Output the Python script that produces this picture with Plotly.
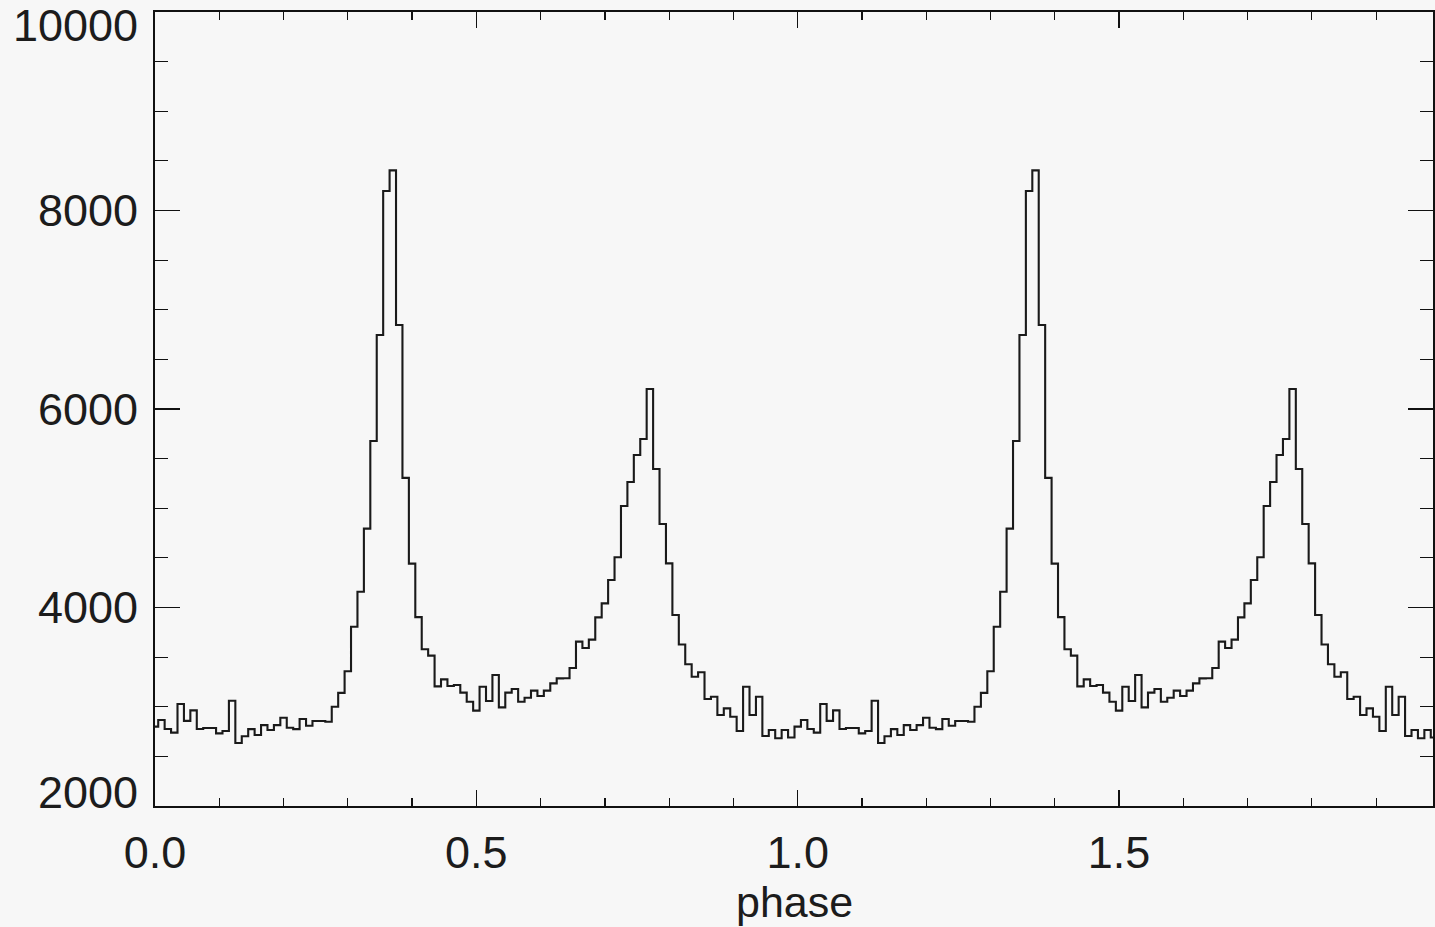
import plotly.graph_objects as go

# ---- data ----
bin_width = 0.01
n_periods = 2
# counts per phase bin for one rotation (bins centred on 0.00, 0.01, ... 0.99)
counts_one_period = [
    2800, 2866, 2776, 2739, 3027, 2858, 2963, 2776, 2786, 2786,
    2732, 2756, 3060, 2635, 2703, 2775, 2715, 2815, 2765, 2815,
    2889, 2789, 2775, 2876, 2809, 2856, 2856, 2849, 3000, 3140,
    3357, 3806, 4158, 4795, 5677, 6746, 8197, 8404, 6846, 5306,
    4442, 3903, 3579, 3515, 3205, 3276, 3209, 3219, 3142, 3051,
    2961, 3202, 3058, 3320, 2994, 3142, 3179, 3051, 3091, 3162,
    3108, 3162, 3236, 3286, 3287, 3390, 3656, 3592, 3676, 3901,
    4042, 4277, 4506, 5023, 5265, 5537, 5698, 6202, 5396, 4841,
    4445, 3925, 3627, 3428, 3303, 3347, 3078, 3101, 2917, 2984,
    2900, 2756, 3202, 2917, 3101, 2705, 2766, 2682, 2766, 2690,
]
# the light curve is plotted twice (phase 0-2)
counts = counts_one_period * n_periods
phase = [round(i * bin_width, 2) for i in range(len(counts))]

x_tick_vals = [0.0, 0.5, 1.0, 1.5]
x_tick_text = ["0.0", "0.5", "1.0", "1.5"]
y_tick_vals = [2000, 4000, 6000, 8000, 10000]
y_tick_text = ["2000", "4000", "6000", "8000", "10000"]
x_title = "phase"

# ---- figure ----
W, H = 1435, 927
L, R, T, B = 155, 0, 12, 121
bg = "#f7f7f7"
ink = "#1c1c1c"
font_family = "Liberation Sans, Arial, sans-serif"

fig = go.Figure()
fig.add_trace(go.Scatter(
    x=phase, y=counts, mode="lines",
    line=dict(shape="hvh", color="#1a1a1a", width=2.1),
    hoverinfo="skip", showlegend=False,
))

x_max = phase[-1] * (W - L) / (W - L + 1)

# y tick labels as annotations (extreme labels sit slightly inside the frame)
label_shift = {2000: 14, 10000: -13}
annotations = []
for v, t in zip(y_tick_vals, y_tick_text):
    annotations.append(dict(
        text=t, xref="paper", yref="y", x=0, y=v,
        xanchor="right", yanchor="middle", xshift=-15,
        yshift=label_shift.get(v, 0), showarrow=False,
        font=dict(size=45, color=ink, family=font_family),
    ))
annotations.append(dict(
    text=x_title, xref="paper", yref="paper", x=0.5, y=0,
    xanchor="center", yanchor="top", yshift=-70, showarrow=False,
    font=dict(size=43, color=ink, family=font_family),
))

fig.update_layout(
    width=W, height=H,
    margin=dict(l=L, r=R, t=T, b=B, pad=0),
    paper_bgcolor=bg, plot_bgcolor=bg,
    font=dict(family=font_family, color=ink, size=45),
    xaxis=dict(
        range=[0, x_max], showgrid=False, zeroline=False,
        showline=True, linecolor="#111", linewidth=1.7, mirror="allticks",
        ticks="inside", ticklen=16, tickwidth=1.3, tickcolor="#111",
        tickmode="array", tickvals=x_tick_vals, ticktext=x_tick_text,
        tickfont=dict(size=45, color=ink, family=font_family),
        ticklabelstandoff=6, ticklabeloverflow="allow",
        minor=dict(dtick=0.1, tick0=0, ticks="inside", ticklen=8,
                   tickwidth=1.2, tickcolor="#111", showgrid=False),
    ),
    yaxis=dict(
        range=[2000, 10000], showgrid=False, zeroline=False,
        showline=True, linecolor="#111", linewidth=1.7, mirror="allticks",
        ticks="inside", ticklen=25, tickwidth=1.3, tickcolor="#111",
        tickmode="array", tickvals=y_tick_vals, ticktext=y_tick_text,
        showticklabels=False,
        minor=dict(dtick=500, tick0=2000, ticks="inside", ticklen=13,
                   tickwidth=1.2, tickcolor="#111", showgrid=False),
    ),
    annotations=annotations,
)

page_fix = (
    "document.body.style.margin='0';"
    "document.body.style.padding='0';"
    "document.body.style.overflow='hidden';"
    "document.body.style.background='%s';"
    "document.documentElement.style.background='%s';" % (bg, bg)
)
fig.write_html("out.html", post_script=page_fix,
               config={"displayModeBar": False, "staticPlot": True})
